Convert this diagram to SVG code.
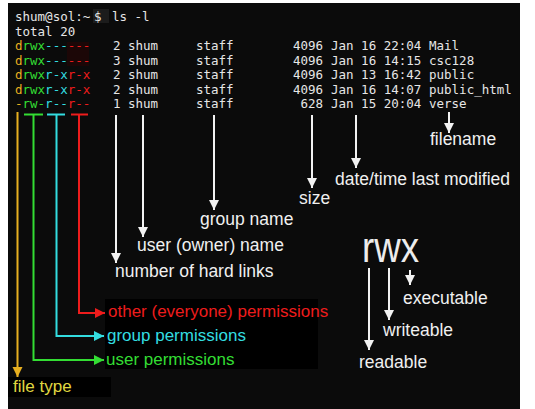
<svg xmlns="http://www.w3.org/2000/svg" width="535" height="409" viewBox="0 0 535 409">
<defs>
<marker id="aw" markerUnits="userSpaceOnUse" markerWidth="10" markerHeight="12" viewBox="0 0 10 12" refX="10" refY="6" orient="auto"><path d="M0,1 L10,6 L0,11 Z" fill="#f2f2f2"/></marker>
<marker id="ay" markerUnits="userSpaceOnUse" markerWidth="10" markerHeight="12" viewBox="0 0 10 12" refX="10" refY="6" orient="auto"><path d="M0,1 L10,6 L0,11 Z" fill="#e8b020"/></marker>
<marker id="ag" markerUnits="userSpaceOnUse" markerWidth="10" markerHeight="12" viewBox="0 0 10 12" refX="10" refY="6" orient="auto"><path d="M0,1 L10,6 L0,11 Z" fill="#33dd33"/></marker>
<marker id="ac" markerUnits="userSpaceOnUse" markerWidth="10" markerHeight="12" viewBox="0 0 10 12" refX="10" refY="6" orient="auto"><path d="M0,1 L10,6 L0,11 Z" fill="#33dde0"/></marker>
<marker id="ar" markerUnits="userSpaceOnUse" markerWidth="10" markerHeight="12" viewBox="0 0 10 12" refX="10" refY="6" orient="auto"><path d="M0,1 L10,6 L0,11 Z" fill="#ee1c1c"/></marker>
</defs>
<style>
.mono{font-family:"DejaVu Sans Mono","Liberation Mono",monospace;font-size:12.5px;fill:#e6e6e6}
.lbl{font-family:"Liberation Sans",Arial,sans-serif;font-size:17.5px;fill:#f0f0f0}
.clbl{font-family:"Liberation Sans",Arial,sans-serif;font-size:17px}
.w{stroke:#f2f2f2;stroke-width:2;fill:none;marker-end:url(#aw)}
.y{fill:#e8b020}.g{fill:#33dd33}.c{fill:#33dde0}.r{fill:#ee1c1c}
</style>
<rect x="8" y="3" width="512" height="406" fill="#0b0b0b"/>
<rect x="93" y="9" width="16" height="14" fill="#1c1c1c"/>
<rect x="67" y="42" width="22" height="24" fill="#1c0707"/>
<rect x="105" y="299" width="213" height="70" fill="#000"/>
<rect x="8" y="377" width="103" height="20" fill="#000"/>

<g id="terminal">
<text class="mono" x="15" y="21">shum@sol:~</text>
<text class="mono" x="94" y="21">$</text>
<text class="mono" x="112" y="21">ls -l</text>
<text class="mono" x="15" y="35.5">total 20</text>
<g id="perms">
<text class="mono" x="15" y="50"><tspan class="y">d</tspan><tspan class="g">rwx</tspan><tspan class="c">---</tspan><tspan class="r">---</tspan></text>
<text class="mono" x="15" y="64.5"><tspan class="y">d</tspan><tspan class="g">rwx</tspan><tspan class="c">---</tspan><tspan class="r">---</tspan></text>
<text class="mono" x="15" y="79"><tspan class="y">d</tspan><tspan class="g">rwx</tspan><tspan class="c">r-x</tspan><tspan class="r">r-x</tspan></text>
<text class="mono" x="15" y="93.5"><tspan class="y">d</tspan><tspan class="g">rwx</tspan><tspan class="c">r-x</tspan><tspan class="r">r-x</tspan></text>
<text class="mono" x="15" y="108"><tspan class="y">-</tspan><tspan class="g">rw-</tspan><tspan class="c">r--</tspan><tspan class="r">r--</tspan></text>
</g>
<g id="links">
<text class="mono" x="113" y="50">2</text><text class="mono" x="113" y="64.5">3</text><text class="mono" x="113" y="79">2</text><text class="mono" x="113" y="93.5">2</text><text class="mono" x="113" y="108">1</text>
</g>
<g id="owner">
<text class="mono" x="128" y="50">shum</text><text class="mono" x="128" y="64.5">shum</text><text class="mono" x="128" y="79">shum</text><text class="mono" x="128" y="93.5">shum</text><text class="mono" x="128" y="108">shum</text>
</g>
<g id="group">
<text class="mono" x="196" y="50">staff</text><text class="mono" x="196" y="64.5">staff</text><text class="mono" x="196" y="79">staff</text><text class="mono" x="196" y="93.5">staff</text><text class="mono" x="196" y="108">staff</text>
</g>
<g id="size">
<text class="mono" x="323" y="50" text-anchor="end">4096</text><text class="mono" x="323" y="64.5" text-anchor="end">4096</text><text class="mono" x="323" y="79" text-anchor="end">4096</text><text class="mono" x="323" y="93.5" text-anchor="end">4096</text><text class="mono" x="323" y="108" text-anchor="end">628</text>
</g>
<g id="date">
<text class="mono" x="331" y="50">Jan 16 22:04</text><text class="mono" x="331" y="64.5">Jan 16 14:15</text><text class="mono" x="331" y="79">Jan 13 16:42</text><text class="mono" x="331" y="93.5">Jan 16 14:07</text><text class="mono" x="331" y="108">Jan 15 20:04</text>
</g>
<g id="names">
<text class="mono" x="429" y="50">Mail</text><text class="mono" x="429" y="64.5">csc128</text><text class="mono" x="429" y="79">public</text><text class="mono" x="429" y="93.5">public_html</text><text class="mono" x="429" y="108">verse</text>
</g>
</g>

<g id="connectors">
<path d="M17.5 112 V377" stroke="#e8b020" stroke-width="2" fill="none" marker-end="url(#ay)"/>
<path d="M24 114.5 H43" stroke="#33dd33" stroke-width="2"/>
<path d="M33.5 114.5 V360 H104" stroke="#33dd33" stroke-width="2" fill="none" marker-end="url(#ag)"/>
<path d="M47 114.5 H65" stroke="#33dde0" stroke-width="2"/>
<path d="M56.5 114.5 V336 H104" stroke="#33dde0" stroke-width="2" fill="none" marker-end="url(#ac)"/>
<path d="M71 114.5 H88" stroke="#ee1c1c" stroke-width="2"/>
<path d="M79 114.5 V313 H105" stroke="#ee1c1c" stroke-width="2" fill="none" marker-end="url(#ar)"/>
<path class="w" d="M116 115 V263"/>
<path class="w" d="M143 115 V237"/>
<path class="w" d="M214 115 V210"/>
<path class="w" d="M312 115 V188"/>
<path class="w" d="M356 115 V168"/>
<path class="w" d="M449 112 V133"/>
<path class="w" d="M369 268 V350"/>
<path class="w" d="M389 268 V320"/>
<path class="w" d="M410 270 V285"/>
</g>

<g id="labels">
<text class="clbl" x="108" y="317" fill="#ee1c1c">other (everyone) permissions</text>
<text class="clbl" x="107" y="341" fill="#33dde0">group permissions</text>
<text class="clbl" x="106" y="365" fill="#33dd33">user permissions</text>
<text class="clbl" x="13" y="392" fill="#e0d840">file type</text>
<text class="lbl" x="115" y="277">number of hard links</text>
<text class="lbl" x="137" y="251">user (owner) name</text>
<text class="lbl" x="200" y="225">group name</text>
<text class="lbl" x="299" y="204">size</text>
<text class="lbl" x="335" y="185">date/time last modified</text>
<text class="lbl" x="430" y="145">filename</text>
<text x="362" y="262" font-family="Liberation Sans, Arial, sans-serif" font-size="42" fill="#ececec" textLength="57" lengthAdjust="spacingAndGlyphs">rwx</text>
<text class="lbl" x="359" y="368">readable</text>
<text class="lbl" x="383" y="336">writeable</text>
<text class="lbl" x="403" y="304">executable</text>
</g>
</svg>
